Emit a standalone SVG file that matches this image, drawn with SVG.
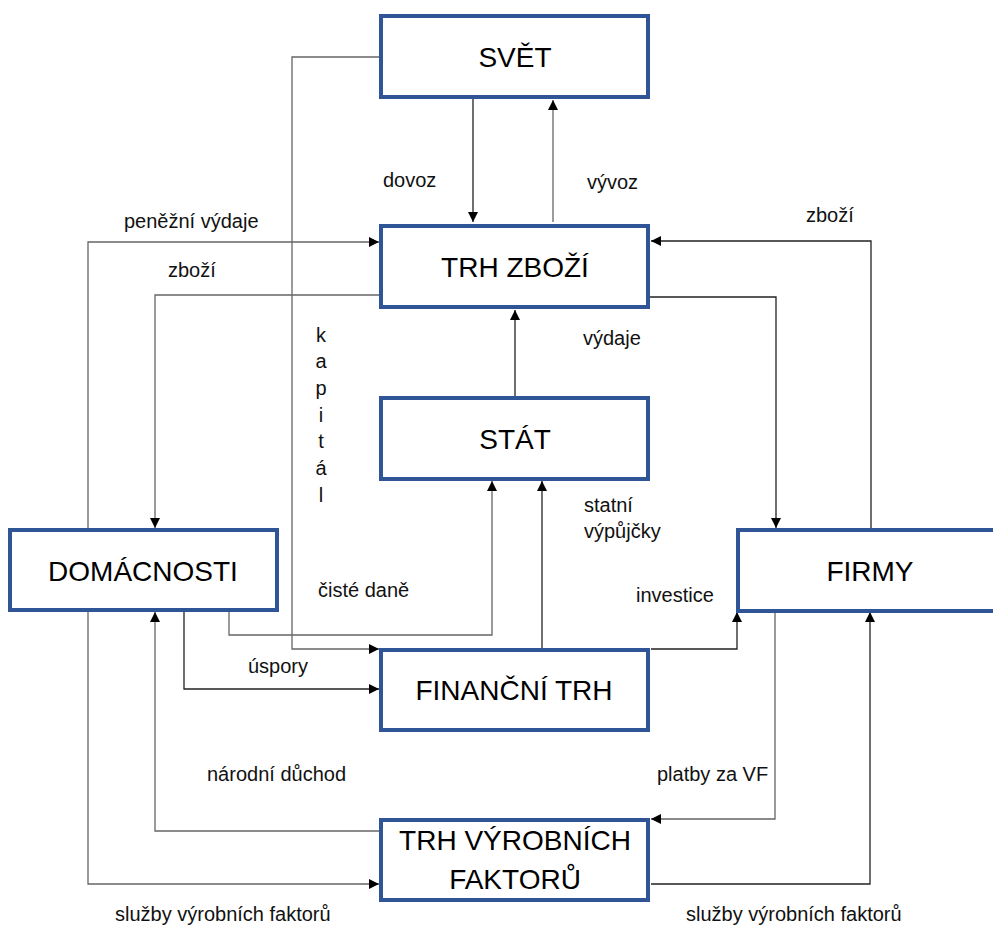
<svg xmlns="http://www.w3.org/2000/svg" width="993" height="925" viewBox="0 0 993 925">
<style>
.box{fill:#fff;stroke:#2F5597;stroke-width:4}
.t{font-family:"Liberation Sans",Arial,sans-serif;font-size:28px;fill:#000;text-anchor:middle}
.l{font-family:"Liberation Sans",Arial,sans-serif;font-size:20px;fill:#111}
.c{fill:none;stroke:#222;stroke-width:1.3;marker-end:url(#ah)}
.g{stroke:#666}
</style>
<defs>
<marker id="ah" markerUnits="userSpaceOnUse" markerWidth="10" markerHeight="10" refX="10" refY="5" orient="auto">
<path d="M0,0 L10,5 L0,10 z" fill="#000"/>
</marker>
</defs>
<rect width="993" height="925" fill="#fff"/>
<g id="connectors">
<path class="c" d="M473,99 V222"/>
<path class="c g" d="M553,222 V100"/>
<path class="c g" d="M379,57 H292 V649 H379"/>
<path class="c g" d="M88,528 V242 H379"/>
<path class="c g" d="M379,295 H155 V528"/>
<path class="c" d="M871,530 V241 H651"/>
<path class="c" d="M650,297 H776 V528"/>
<path class="c" d="M515,396 V310"/>
<path class="c g" d="M229,612 V635 H492 V481"/>
<path class="c" d="M542,650 V481"/>
<path class="c" d="M651,649 H737 V612"/>
<path class="c" d="M184,612 V689 H379"/>
<path class="c g" d="M379,831 H155 V612"/>
<path class="c g" d="M88,612 V884 H379"/>
<path class="c g" d="M775,612 V819 H651"/>
<path class="c" d="M651,884 H870 V612"/>
</g>
<g id="svet"><rect class="box" x="381" y="16" width="267" height="81"/><text class="t" x="515" y="67">SVĚT</text></g>
<g id="trh-zbozi"><rect class="box" x="381" y="226" width="267" height="81"/><text class="t" x="515" y="277">TRH ZBOŽÍ</text></g>
<g id="stat"><rect class="box" x="381" y="398" width="267" height="81"/><text class="t" x="515" y="449">STÁT</text></g>
<g id="domacnosti"><rect class="box" x="10" y="530" width="267" height="80"/><text class="t" x="143" y="581">DOMÁCNOSTI</text></g>
<g id="firmy"><rect class="box" x="738" y="530" width="267" height="81"/><text class="t" x="870" y="581">FIRMY</text></g>
<g id="financni-trh"><rect class="box" x="381" y="650" width="267" height="80"/><text class="t" x="514" y="700">FINANČNÍ TRH</text></g>
<g id="trh-vf"><rect class="box" x="381" y="820" width="267" height="80"/><text class="t" x="515" y="850">TRH VÝROBNÍCH</text><text class="t" x="515" y="889">FAKTORŮ</text></g>
<g id="labels">
<text class="l" x="383" y="187">dovoz</text>
<text class="l" x="587" y="189">vývoz</text>
<text class="l" x="124" y="228">peněžní výdaje</text>
<text class="l" x="168" y="277">zboží</text>
<text class="l" x="806" y="222">zboží</text>
<text class="l" x="583" y="345">výdaje</text>
<text class="l" text-anchor="middle"><tspan x="321" y="342">k</tspan><tspan x="321" y="368">a</tspan><tspan x="321" y="395">p</tspan><tspan x="321" y="422">i</tspan><tspan x="321" y="448">t</tspan><tspan x="321" y="475">á</tspan><tspan x="321" y="502">l</tspan></text>
<text class="l" x="584" y="512">statní</text>
<text class="l" x="584" y="538">výpůjčky</text>
<text class="l" x="318" y="597">čisté daně</text>
<text class="l" x="636" y="602">investice</text>
<text class="l" x="248" y="673">úspory</text>
<text class="l" x="207" y="781">národní důchod</text>
<text class="l" x="657" y="781">platby za VF</text>
<text class="l" x="115" y="921">služby výrobních faktorů</text>
<text class="l" x="686" y="921">služby výrobních faktorů</text>
</g>
</svg>
